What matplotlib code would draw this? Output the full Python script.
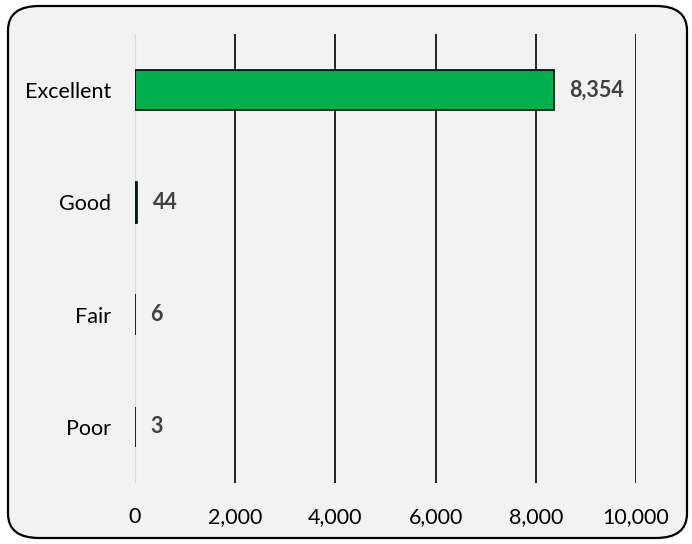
import matplotlib
matplotlib.use('Agg')
import matplotlib.pyplot as plt
from matplotlib.patches import FancyBboxPatch

# data
categories = ['Excellent', 'Good', 'Fair', 'Poor']
counts = [8354, 44, 6, 3]
x_ticks = [0, 2000, 4000, 6000, 8000, 10000]

plt.rcParams['font.family'] = ['Lato', 'DejaVu Sans']

fig = plt.figure(figsize=(6.92, 5.44), dpi=100, facecolor='white')
# rounded chart frame (kept behind the axes)
frame = FancyBboxPatch((8 / 692, 6 / 544), 679 / 692, 532 / 544,
                       boxstyle='round,pad=0,rounding_size=0.045',
                       transform=fig.transFigure, facecolor='#f2f2f2',
                       edgecolor='black', linewidth=1.6, zorder=-10)
fig.patches.append(frame)

ax = fig.add_axes([135 / 692, 61 / 544, 501 / 692, 449 / 544])
ax.set_facecolor('none')

y_pos = list(range(len(categories)))
ax.barh(y_pos, counts, height=0.36, color='#00b050', edgecolor='black',
        linewidth=1.2, zorder=3)

# value labels
for y, v in zip(y_pos, counts):
    ax.annotate(f'{v:,}', (v, y), xytext=(11, 0), textcoords='offset points',
                ha='left', va='center', fontsize=15.5, fontweight='bold',
                color='#404040')

ax.set_xlim(0, 10000)
ax.set_ylim(len(categories) - 0.5, -0.5)
ax.set_xticks(x_ticks)
ax.set_xticklabels([f'{t:,}' for t in x_ticks])
ax.set_yticks(y_pos)
ax.set_yticklabels(categories)
ax.tick_params(axis='both', length=0, labelsize=15.5, colors='black')
ax.tick_params(axis='y', pad=17)
ax.tick_params(axis='x', pad=17)

for s in ax.spines.values():
    s.set_visible(False)

# vertical gridlines, zero line light gray
ax.grid(axis='x', color='black', linewidth=1.2, zorder=1)
ax.set_axisbelow(True)
ax.get_xgridlines()[0].set_color('#d9d9d9')
ax.get_xgridlines()[0].set_linewidth(1.6)

plt.savefig('out.png', dpi=100, facecolor='white')
